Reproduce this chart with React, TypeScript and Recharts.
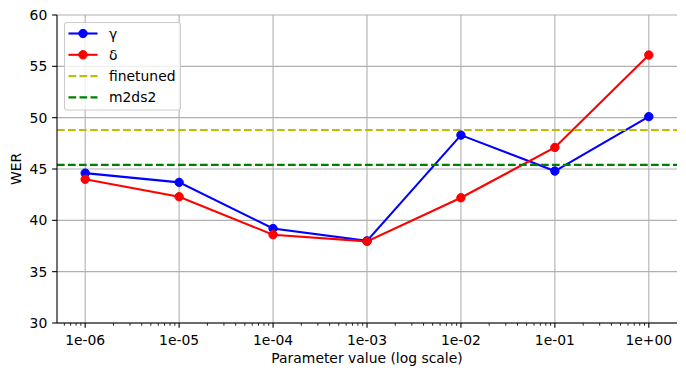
import React from 'react';
import { LineChart, Line, XAxis, YAxis, CartesianGrid, ReferenceLine, Label } from 'recharts';

const params = [1e-6, 1e-5, 1e-4, 1e-3, 1e-2, 1e-1, 1];
const paramLabels = ['1e-06', '1e-05', '1e-04', '1e-03', '1e-02', '1e-01', '1e+00'];
const gamma = [44.6, 43.7, 39.2, 38.0, 48.3, 44.8, 50.1];
const delta = [44.0, 42.3, 38.6, 37.95, 42.2, 47.1, 56.1];
const finetunedWER = 48.8;
const m2ds2WER = 45.4;
const seriesNames = ['γ', 'δ', 'finetuned', 'm2ds2'];
const yTicks = [30, 35, 40, 45, 50, 55, 60];
const xTitle = 'Parameter value (log scale)';
const yTitle = 'WER';

const xDomain = [Math.pow(10, -6.3), Math.pow(10, 0.3)];
const minorTicks: number[] = [];
for (let k = -7; k <= 0; k++) {
  for (let m = 2; m <= 9; m++) {
    const v = m * Math.pow(10, k);
    if (v > xDomain[0] && v < xDomain[1]) minorTicks.push(v);
  }
}
const allXTicks = [...params, ...minorTicks].sort((a, b) => a - b);

const data = params.map((p, i) => ({ param: p, gamma: gamma[i], delta: delta[i] }));

const FONT = 'DejaVu Sans, sans-serif';
const FS = 13.9;

const XTick = (props: any) => {
  const { x, y, payload } = props;
  const i = params.indexOf(payload.value);
  const major = i >= 0;
  return (
    <g>
      <line x1={x} x2={x} y1={y} y2={y + (major ? 4.86 : 2.78)} stroke="#000" strokeWidth={major ? 1.1 : 0.83} />
      {major && (
        <text x={x} y={y + 21.5} textAnchor="middle" fontSize={FS} fontFamily={FONT} fill="#000">
          {paramLabels[i]}
        </text>
      )}
    </g>
  );
};

const rowsY = [11.5, 32.8, 54.1, 75.4];
const legendColors = ['#0000ff', '#ff0000', '#bfbf00', '#008000'];

const LegendBox = () => (
  <svg width={118} height={90} style={{ display: 'block' }}>
    <rect x={0.5} y={0.5} width={116} height={87.5} rx={2.5} fill="#fff" fillOpacity={0.8} stroke="#cccccc" strokeWidth={1.1} />
    {seriesNames.map((n, i) => (
      <g key={n}>
        <line
          x1={4.5}
          x2={33.5}
          y1={rowsY[i]}
          y2={rowsY[i]}
          stroke={legendColors[i]}
          strokeWidth={2.08}
          strokeDasharray={i >= 2 ? '7.7 3.3' : undefined}
        />
        {i < 2 && <circle cx={19} cy={rowsY[i]} r={4.2} fill={legendColors[i]} stroke={legendColors[i]} strokeWidth={1} />}
        <text x={45} y={rowsY[i]} dominantBaseline="central" fontSize={FS} fontFamily={FONT} fill="#000">
          {n}
        </text>
      </g>
    ))}
  </svg>
);

export default function App() {
  return (
    <div style={{ position: 'absolute', left: 0, top: 0, width: 686, height: 376, background: '#fff', fontFamily: FONT }}>
      <LineChart width={686} height={376} data={data} margin={{ top: 15, right: 9, bottom: 0, left: 0 }}>
        <CartesianGrid vertical={false} stroke="#b0b0b0" strokeWidth={1.1} />
        {params.map((p) => (
          <ReferenceLine key={p} x={p} stroke="#b0b0b0" strokeWidth={1.1} />
        ))}
        <XAxis
          dataKey="param"
          type="number"
          scale="log"
          domain={xDomain}
          allowDataOverflow
          ticks={allXTicks}
          interval={0}
          tick={<XTick />}
          tickLine={false}
          tickSize={0}
          tickMargin={0}
          height={53}
          axisLine={{ stroke: '#000', strokeWidth: 1.1 }}
        >
          <Label
            content={(p: any) => {
              const vb = p.viewBox;
              return (
                <text x={vb.x + vb.width / 2} y={vb.y + 40} textAnchor="middle" fontSize={FS} fontFamily={FONT} fill="#000">
                  {xTitle}
                </text>
              );
            }}
          />
        </XAxis>
        <XAxis xAxisId="top" orientation="top" type="number" domain={[0, 1]} tick={false} tickLine={false} height={0} axisLine={{ stroke: '#000', strokeWidth: 1.1 }} />
        <YAxis
          type="number"
          domain={[30, 60]}
          ticks={yTicks}
          width={57}
          tickSize={4.86}
          tickMargin={4.86}
          interval={0}
          tick={{ fontSize: FS, fill: '#000', fontFamily: FONT }}
          tickLine={{ stroke: '#000', strokeWidth: 1.1 }}
          axisLine={{ stroke: '#000', strokeWidth: 1.1 }}
        >
          <Label
            content={(p: any) => {
              const vb = p.viewBox;
              const cx = vb.x + 16;
              const cy = vb.y + vb.height / 2;
              return (
                <text x={cx} y={cy} transform={`rotate(-90 ${cx} ${cy})`} textAnchor="middle" dominantBaseline="central" fontSize={FS} fontFamily={FONT} fill="#000">
                  {yTitle}
                </text>
              );
            }}
          />
        </YAxis>
        <YAxis yAxisId="right" orientation="right" type="number" domain={[0, 1]} tick={false} tickLine={false} width={0} axisLine={{ stroke: '#000', strokeWidth: 1.1 }} />
        <Line
          dataKey="gamma"
          name={seriesNames[0]}
          stroke="#0000ff"
          strokeWidth={2.08}
          dot={{ r: 4.2, fill: '#0000ff', stroke: '#0000ff', strokeWidth: 1 }}
          activeDot={false}
          isAnimationActive={false}
        />
        <Line
          dataKey="delta"
          name={seriesNames[1]}
          stroke="#ff0000"
          strokeWidth={2.08}
          dot={{ r: 4.2, fill: '#ff0000', stroke: '#ff0000', strokeWidth: 1 }}
          activeDot={false}
          isAnimationActive={false}
        />
        <ReferenceLine y={finetunedWER} stroke="#bfbf00" strokeWidth={2.08} strokeDasharray="7.7 3.3" />
        <ReferenceLine y={m2ds2WER} stroke="#008000" strokeWidth={2.08} strokeDasharray="7.7 3.3" />
      </LineChart>
      <div style={{ position: 'absolute', left: 63.5, top: 21.5 }}>
        <LegendBox />
      </div>
    </div>
  );
}
